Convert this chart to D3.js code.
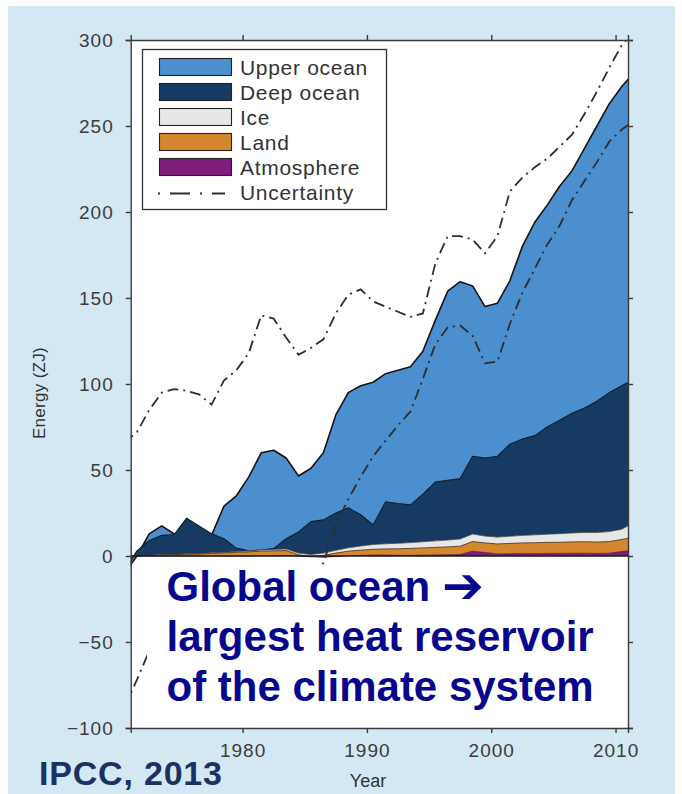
<!DOCTYPE html>
<html>
<head>
<meta charset="utf-8">
<script src="https://cdn.jsdelivr.net/npm/d3@7"></script>
<style>
  html, body { margin: 0; padding: 0; background: #ffffff; }
  svg { display: block; }
  text { font-family: "Liberation Sans", Arial, Helvetica, sans-serif; }
</style>
</head>
<body>
<svg id="chart" width="682" height="794"></svg>
<script>
// Annual means (ZJ), one value per year, plotted at mid-year
const years = d3.range(1970, 2012);

const upperOcean = [-1, -3, 4, 5.5, 0.3, -7, -4.5, -1, 19, 30.4,
  43, 56.5, 57.2, 47, 32.5, 31, 39, 57, 67, 75,
  83, 74.5, 77.5, 80.3, 83, 94, 110, 114.5, 99, 88,
  89, 95, 112, 124, 129, 136, 141, 151, 160, 168,
  174, 178];
const deepOcean = [-9, 3, 8.6, 11.2, 11.5, 20.7, 16, 11.1, 7.8, 2,
  0, 0, 0.5, 5.9, 12.3, 19.1, 19.3, 21.7, 23.2, 18.2,
  11.3, 24.4, 23.1, 21.9, 27.7, 34.2, 34.7, 35.1, 45.2, 45.4,
  47, 53.5, 56, 57.7, 62.3, 66, 69.6, 72.3, 76.3, 80.8,
  83.4, 83.5];
const ice = [0, 0, 0.1, 0.2, 0.2, 0.3, 0.3, 0.4, 0.4, 0.5,
  0.6, 0.7, 0.8, 0.9, 1.0, 1.2, 1.4, 1.6, 2.0, 2.4,
  2.8, 3.0, 3.2, 3.4, 3.6, 3.8, 4.0, 4.2, 4.4, 4.0,
  4.0, 4.2, 4.4, 4.6, 4.8, 5.0, 5.2, 5.4, 5.6, 5.8,
  6.0, 8.5];
const land = [0, 0, 0.3, 0.6, 0.8, 1.0, 1.2, 1.5, 1.8, 2.1,
  2.4, 2.6, 2.8, 2.9, 0.7, 0.2, 1.0, 2.0, 2.6, 3.0,
  3.4, 3.6, 3.8, 4.0, 4.2, 4.4, 4.6, 4.8, 5.6, 5.6,
  5.8, 6.0, 6.2, 6.3, 6.4, 6.5, 6.6, 6.7, 6.6, 6.8,
  7.0, 7.8];
const atmosphere = [0, 0, 0, 0, 0, 0, 0, 0, 0, 0,
  0, 0.2, 0.2, 0.3, 0, -0.5, -0.7, -0.3, 0.2, 0.4,
  0.5, 0.5, 0.4, 0.4, 0.5, 0.6, 0.7, 0.9, 2.8, 2.0,
  1.2, 1.3, 1.4, 1.4, 1.5, 1.5, 1.6, 1.6, 1.5, 1.6,
  2.6, 3.2];

// Uncertainty envelope of the total
const uncertaintyHigh = [66, 72, 85, 95, 97, 96, 94, 88, 102, 108,
  118, 140, 138, 127, 117, 121, 126, 141, 152, 155,
  148, 145, 142, 139, 141, 170, 186, 186, 184, 176,
  186, 212, 220, 226, 231, 238, 245, 257, 270, 284,
  297, 305];
const uncertaintyLow = [-88, -72, -55, -45, -42, -40, -42, -48, -38, -32,
  -25, -12, -12, -20, -28, -18, -4, 18, 33, 46,
  58, 67, 76, 84, 103, 123, 133, 134, 128, 112,
  113, 135, 153, 167, 181, 192, 207, 218, 229, 241,
  248, 253];

const yTicks = [-100, -50, 0, 50, 100, 150, 200, 250, 300];
const xTicks = [1980, 1990, 2000, 2010];
const seriesKeys = ["atmosphere", "land", "ice", "deep", "upper"];
const legendLabels = ["Upper ocean", "Deep ocean", "Ice", "Land", "Atmosphere"];
const uncertaintyLabel = "Uncertainty";

const colors = {
  upper: "#4b8fcf",
  deep: "#163a62",
  ice: "#e7e7e7",
  land: "#d4872f",
  atmosphere: "#7d1e7b"
};
const legendKeys = ["upper", "deep", "ice", "land", "atmosphere"];

const svg = d3.select("#chart");

// page panel
svg.append("rect").attr("x", 8).attr("y", 6).attr("width", 667).attr("height", 788)
  .attr("fill", "#d3e8f3");

const L = 130.7, R = 628, T = 40, B = 728;
const x = d3.scaleLinear().domain([1971, 2011]).range([L, R]);
const y = d3.scaleLinear().domain([-100, 300]).range([B, T]);

// plot background
svg.append("rect").attr("x", L).attr("y", T).attr("width", R - L).attr("height", B - T)
  .attr("fill", "#ffffff");

svg.append("defs").append("clipPath").attr("id", "plotClip")
  .append("rect").attr("x", L).attr("y", T).attr("width", R - L).attr("height", B - T);

const rows = years.map((yr, i) => ({
  year: yr,
  upper: upperOcean[i],
  deep: deepOcean[i],
  ice: ice[i],
  land: land[i],
  atmosphere: atmosphere[i]
}));

const stacked = d3.stack().keys(seriesKeys)
  .order(d3.stackOrderNone).offset(d3.stackOffsetNone)(rows);
const byKey = {};
stacked.forEach(s => { byKey[s.key] = s; });

const xm = d => x(d.data.year + 0.5);
const area = d3.area().x(xm).y0(d => y(d[0])).y1(d => y(d[1]));
const topLine = d3.line().x(xm).y(d => y(d[1]));

const plot = svg.append("g").attr("clip-path", "url(#plotClip)");

const strokeStyle = {
  upper: { c: "#141414", w: 1.6 },
  deep: { c: "#0c1b2c", w: 1.1 },
  ice: { c: "#3a3a3a", w: 0.8 },
  land: { c: "#3a2a10", w: 0.8 },
  atmosphere: { c: "#2a0a2a", w: 0.6 }
};

["upper", "deep", "ice", "land", "atmosphere"].forEach(k => {
  plot.append("path").datum(byKey[k]).attr("d", area).attr("fill", colors[k]);
  plot.append("path").datum(byKey[k]).attr("d", topLine)
    .attr("fill", "none").attr("stroke", strokeStyle[k].c)
    .attr("stroke-width", strokeStyle[k].w).attr("stroke-linejoin", "round");
});

// zero line
plot.append("line").attr("x1", L).attr("x2", R).attr("y1", y(0)).attr("y2", y(0))
  .attr("stroke", "#1a1a1a").attr("stroke-width", 1.4);

// uncertainty envelope
const uLine = d3.line().x((d, i) => x(years[i] + 0.5)).y(d => y(d));
[uncertaintyHigh, uncertaintyLow].forEach(arr => {
  plot.append("path").datum(arr).attr("d", uLine)
    .attr("fill", "none").attr("stroke", "#2e2e2e").attr("stroke-width", 1.8)
    .attr("stroke-dasharray", "11,5,2,5");
});

// annotation panel
plot.append("rect").attr("x", 147).attr("y", 566).attr("width", R - 147).attr("height", B - 566)
  .attr("fill", "#ffffff");

const note = svg.append("g").attr("fill", "#07078e")
  .attr("font-weight", "bold").attr("font-size", 42);
const l1 = note.append("text").attr("x", 166.5).attr("y", 601);
l1.append("tspan").text("Global ocean ");
l1.append("tspan").attr("font-family", "DejaVu Sans").attr("font-weight", "bold")
  .attr("font-size", 50).attr("dy", 2).text("➔");
note.append("text").attr("x", 166.5).attr("y", 651).text("largest heat reservoir");
note.append("text").attr("x", 166.5).attr("y", 701).text("of the climate system");

// axes
const axisColor = "#3a3a3a";
function styleAxis(g) {
  g.selectAll(".domain").attr("stroke", axisColor).attr("stroke-width", 1.4);
  g.selectAll(".tick line").attr("stroke", axisColor).attr("stroke-width", 1.4);
  g.selectAll(".tick text").attr("fill", "#3c3c3c")
    .attr("font-family", "Liberation Sans, Arial, sans-serif").attr("font-size", 19)
    .attr("letter-spacing", 1);
}

svg.append("g").attr("transform", `translate(${L},0)`)
  .call(d3.axisLeft(y).tickValues(yTicks).tickSize(5).tickSizeOuter(5).tickPadding(12)
    .tickFormat(d => d < 0 ? "\u2212" + Math.abs(d) : d))
  .call(styleAxis);
svg.append("g").attr("transform", `translate(${R},0)`)
  .call(d3.axisRight(y).tickValues(yTicks).tickSize(5).tickSizeOuter(5).tickFormat(""))
  .call(styleAxis);
svg.append("g").attr("transform", `translate(0,${B})`)
  .call(d3.axisBottom(x).tickValues(xTicks).tickSize(5).tickSizeOuter(5).tickPadding(11)
    .tickFormat(d3.format("d")))
  .call(styleAxis);
svg.append("g").attr("transform", `translate(0,${T})`)
  .call(d3.axisTop(x).tickValues(xTicks).tickSize(5).tickSizeOuter(5).tickFormat(""))
  .call(styleAxis);

// axis titles
svg.append("text").attr("transform", "translate(45,393) rotate(-90)")
  .attr("text-anchor", "middle").attr("font-size", 17).attr("fill", "#333")
  .attr("letter-spacing", 0.3).text("Energy (ZJ)");
svg.append("text").attr("x", 368).attr("y", 787).attr("text-anchor", "middle")
  .attr("font-size", 18).attr("fill", "#333").text("Year");

// legend
const lg = svg.append("g");
lg.append("rect").attr("x", 142.5).attr("y", 49.5).attr("width", 244).attr("height", 160)
  .attr("fill", "#ffffff").attr("stroke", "#333").attr("stroke-width", 1.3);
legendKeys.forEach((k, i) => {
  lg.append("rect").attr("x", 159.5).attr("y", 58.5 + i * 25).attr("width", 72).attr("height", 17)
    .attr("fill", colors[k]).attr("stroke", "#222").attr("stroke-width", 1.1);
  lg.append("text").attr("x", 240).attr("y", 75 + i * 25).attr("font-size", 21)
    .attr("letter-spacing", 0.7).attr("fill", "#333").text(legendLabels[i]);
});
lg.append("line").attr("x1", 158).attr("x2", 225).attr("y1", 193.5).attr("y2", 193.5)
  .attr("stroke", "#2e2e2e").attr("stroke-width", 1.8).attr("stroke-dasharray", "2,10,20,10");
lg.append("text").attr("x", 240).attr("y", 200).attr("font-size", 21)
  .attr("letter-spacing", 0.7).attr("fill", "#333").text(uncertaintyLabel);

// source
svg.append("text").attr("x", 39).attr("y", 785).attr("font-size", 34).attr("font-weight", "bold")
  .attr("letter-spacing", 0.8).attr("fill", "#1c3163").text("IPCC, 2013");
</script>
</body>
</html>
